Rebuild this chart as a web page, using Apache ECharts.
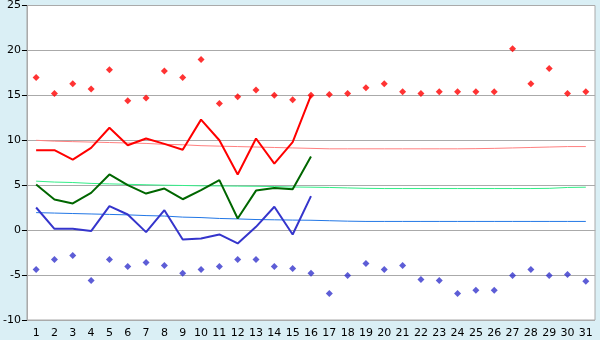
<!DOCTYPE html>
<html>
<head>
<meta charset="utf-8">
<script src="https://cdn.jsdelivr.net/npm/echarts@6/dist/echarts.min.js"></script>
<style>
html,body{margin:0;padding:0;background:#daeff5;}
#c{width:600px;height:340px;}
</style>
</head>
<body>
<div id="c"></div>
<script>
var days = ['1','2','3','4','5','6','7','8','9','10','11','12','13','14','15','16','17','18','19','20','21','22','23','24','25','26','27','28','29','30','31'];
var yTicks = [-10, 25, 5];

var maxPoints = [17.0,15.2,16.3,15.7,17.85,14.4,14.7,17.7,17.0,19.0,14.1,14.85,15.6,15.0,14.5,15.0,15.1,15.2,15.85,16.3,15.4,15.2,15.4,15.4,15.4,15.4,20.2,16.3,18.0,15.2,15.4];
var minPoints = [-4.37,-3.26,-2.81,-5.6,-3.26,-4.04,-3.59,-3.93,-4.81,-4.37,-4.04,-3.26,-3.26,-4.04,-4.26,-4.81,-7.04,-5.04,-3.7,-4.37,-3.93,-5.48,-5.6,-7.04,-6.7,-6.7,-5.04,-4.37,-5.04,-4.93,-5.7];

var maxLine = [8.9,8.9,7.85,9.15,11.4,9.45,10.2,9.6,8.95,12.3,10.0,6.2,10.2,7.4,9.8,15.0];
var meanLine = [5.07,3.4,2.97,4.15,6.2,5.0,4.07,4.63,3.44,4.45,5.56,1.3,4.4,4.7,4.55,8.2];
var minLine = [2.52,0.15,0.15,-0.1,2.67,1.74,-0.22,2.22,-1.04,-0.93,-0.48,-1.48,0.37,2.6,-0.48,3.78];

var normMax = [10.0,9.9,9.85,9.8,9.75,9.7,9.65,9.55,9.5,9.4,9.35,9.3,9.25,9.2,9.15,9.1,9.05,9.05,9.05,9.05,9.05,9.05,9.05,9.05,9.07,9.1,9.15,9.2,9.25,9.3,9.3];
var normMean = [5.45,5.35,5.3,5.2,5.15,5.1,5.05,5.0,4.97,4.93,4.92,4.9,4.88,4.85,4.8,4.78,4.75,4.7,4.65,4.63,4.63,4.63,4.63,4.63,4.63,4.63,4.63,4.63,4.65,4.75,4.78];
var normMin = [1.95,1.9,1.85,1.8,1.75,1.7,1.62,1.57,1.45,1.4,1.3,1.25,1.18,1.15,1.12,1.1,1.05,1.0,0.97,0.97,0.97,0.97,0.97,0.97,0.97,0.97,0.97,0.97,0.97,0.97,0.97];

var chart = echarts.init(document.getElementById('c'));
var font = {fontFamily:'DejaVu Sans', fontSize:11, color:'#000'};
function lineS(data, color, width){
  return {type:'line', data:data, showSymbol:false, symbol:'none', lineStyle:{color:color, width:width}, itemStyle:{color:color}, animation:false, z:3};
}
function ptS(data, color){
  return {type:'scatter', data:data, symbol:'diamond', symbolSize:7, itemStyle:{color:color}, animation:false, z:4};
}
chart.setOption({
  backgroundColor:'#daeff5',
  animation:false,
  grid:{left:26, right:5, top:5, bottom:20, show:true, backgroundColor:'#ffffff', borderColor:'#aaaaaa', borderWidth:1},
  xAxis:{type:'category', data:days, boundaryGap:true,
    axisLine:{lineStyle:{color:'#aaaaaa'}},
    axisTick:{alignWithLabel:true, length:5, lineStyle:{color:'#000'}},
    axisLabel:Object.assign({margin:8, interval:0}, font),
    splitLine:{show:false}},
  yAxis:{type:'value', min:yTicks[0], max:yTicks[1], interval:yTicks[2],
    axisLine:{show:true, lineStyle:{color:'#aaaaaa'}},
    axisTick:{show:true, length:5, lineStyle:{color:'#000'}},
    axisLabel:Object.assign({margin:6}, font),
    splitLine:{lineStyle:{color:'#aaaaaa', width:1}}},
  series:[
    lineS(normMax, '#ff8080', 1),
    lineS(normMean, '#33ee88', 1),
    lineS(normMin, '#2277e6', 1),
    lineS(maxLine, '#ff0000', 2),
    lineS(meanLine, '#006600', 2),
    lineS(minLine, '#3535cc', 2),
    ptS(maxPoints, '#ff0000'),
    ptS(minPoints, '#3535cc')
  ]
});
</script>
</body>
</html>
